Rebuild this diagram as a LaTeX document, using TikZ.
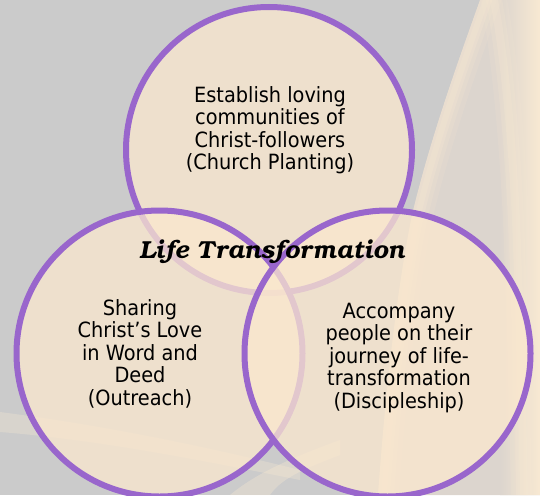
\documentclass[tikz,border=0pt]{standalone}
\usepackage[T1]{fontenc}
\usepackage{fontspec}
\newfontfamily\tah[FakeStretch=0.92]{DejaVu Sans}
\definecolor{bg}{HTML}{CBCBCB}
\definecolor{flame}{HTML}{F8E9D2}
\definecolor{flamein}{HTML}{DCD5CE}
\definecolor{cream}{RGB}{251,232,206}
\definecolor{vpurple}{HTML}{9966CC}
\tikzset{
  venn/.style={circle, draw=vpurple, line width=6pt, fill=cream, fill opacity=0.75, draw opacity=1, minimum size=286pt, inner sep=0pt},
  body/.style={align=center, text=black, font=\tah\fontsize{21}{22.5}\selectfont, inner sep=0pt},
  title/.style={text=black, inner sep=0pt, font=\fontencoding{T1}\fontfamily{pbk}\fontseries{b}\fontshape{it}\fontsize{24.6}{28}\selectfont},
  ridge/.style={draw=flame, line cap=round}
}
\begin{document}
\begin{tikzpicture}[x=1pt,y=-1pt]
\useasboundingbox (0,0) rectangle (540,495);
% background
\fill[bg] (0,0) rectangle (540,495);
\fill[flamein] (480,0) .. controls (455,70) and (430,140) .. (412,215) .. controls (395,300) and (385,400) .. (378,495) -- (540,495) -- (540,0) -- cycle;
\begin{scope}
  \clip (480,0) .. controls (455,70) and (430,140) .. (412,215) .. controls (395,300) and (385,400) .. (378,495) -- (540,495) -- (540,0) -- cycle;
  \shade[left color=flamein, right color=flame] (500,0) rectangle (540,495);
  % left bright ridge
  \foreach \w/\o in {30/0.15,20/0.2,12/0.25,6/0.25}{
    \draw[ridge, line width=\w pt, opacity=\o] (486,0) .. controls (461,70) and (436,140) .. (418,215) .. controls (401,300) and (391,400) .. (384,495);
  }
  % second ridge
  \foreach \w/\o in {26/0.15,16/0.2,8/0.25}{
    \draw[ridge, line width=\w pt, opacity=\o] (494,0) .. controls (505,60) and (512,140) .. (516,220) .. controls (520,320) and (522,400) .. (524,495);
  }
\end{scope}
\fill[flame, opacity=0.3] (0,412) .. controls (100,425) and (200,445) .. (300,470) -- (300,480) .. controls (200,460) and (100,440) .. (0,432) -- cycle;
\fill[flame, opacity=0.35] (230,495) .. controls (260,470) and (300,455) .. (340,440) -- (340,455) .. controls (300,470) and (280,480) .. (270,495) -- cycle;
% circles
\node[venn] (top) at (269,150) {};
\node[venn] (left) at (159.5,353.5) {};
\node[venn] (right) at (387.5,353.5) {};
% texts
\node[body] (ttop) at (270,130) {Establish loving\\communities of\\Christ-followers\\(Church Planting)};
\node[body] (tleft) at (140,353.5) {Sharing\\Christ’s Love\\in Word and\\Deed\\(Outreach)};
\node[body] (tright) at (399,358) {Accompany\\people on their\\journey of life-\\transformation\\(Discipleship)};
\node[title] (tcenter) at (272,252) {Life Transformation};
\end{tikzpicture}
\end{document}
